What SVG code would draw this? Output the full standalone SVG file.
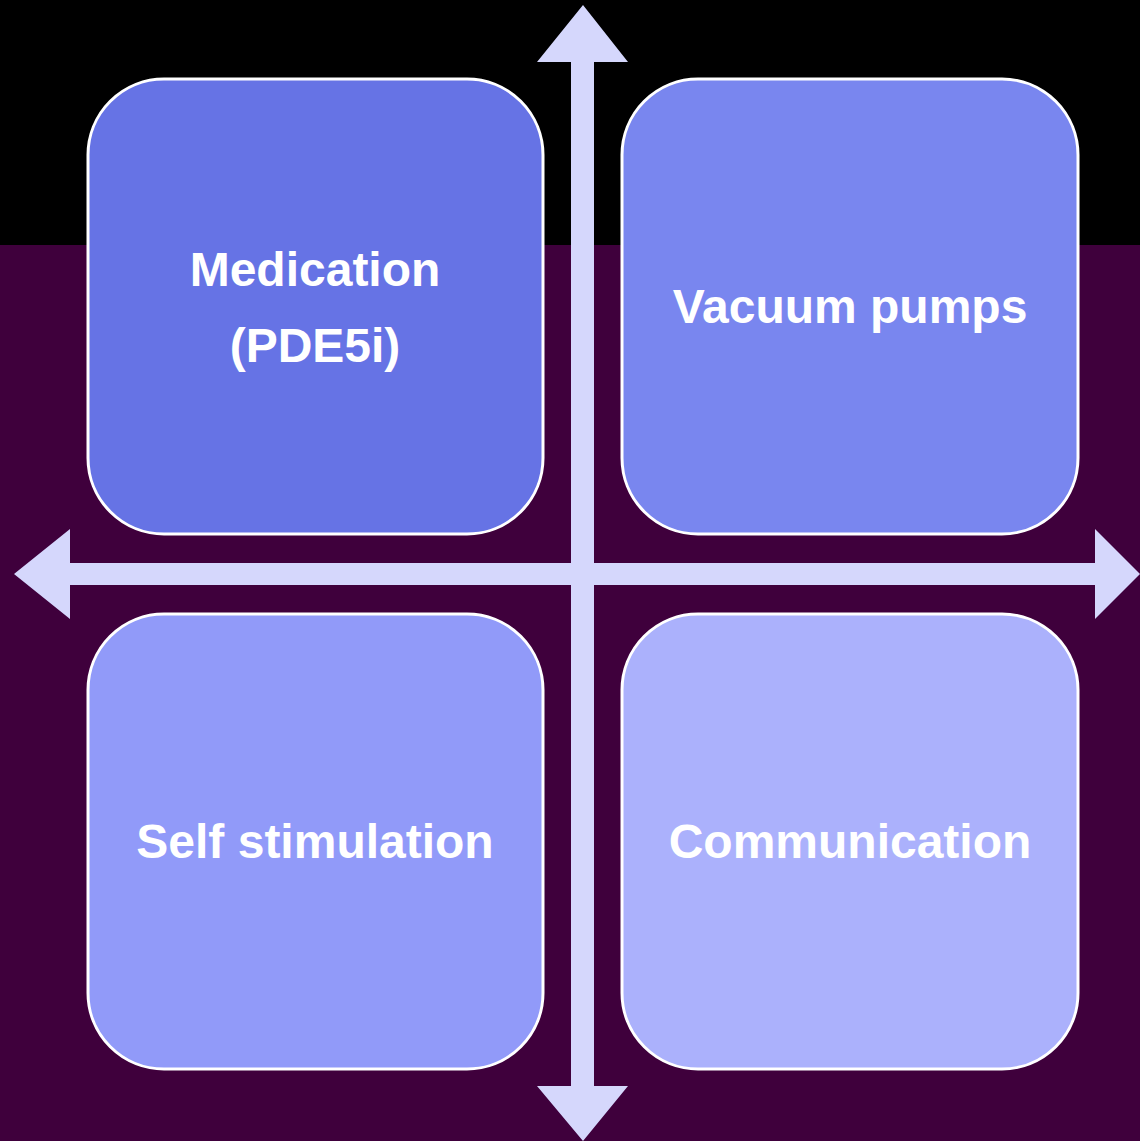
<svg xmlns="http://www.w3.org/2000/svg" width="1140" height="1141" viewBox="0 0 1140 1141">
<style>
.box{stroke:#ffffff;stroke-width:3}
.lbl{font-family:"Liberation Sans",Arial,sans-serif;font-weight:bold;font-size:48px;fill:#ffffff;text-anchor:middle}
.arr{fill:#D5D7FC}
</style>
<rect x="0" y="0" width="1140" height="245" fill="#000000"/>
<rect x="0" y="245" width="1140" height="896" fill="#3F003C"/>
<g id="node-medication">
<rect class="box" x="88" y="79" width="455" height="455" rx="76" fill="#6673E5"/>
<text class="lbl" x="315" y="286">Medication</text>
<text class="lbl" x="315" y="362">(PDE5i)</text>
</g>
<g id="node-vacuum">
<rect class="box" x="622" y="79" width="456" height="455" rx="76" fill="#7986EF"/>
<text class="lbl" x="850" y="323">Vacuum pumps</text>
</g>
<g id="node-self">
<rect class="box" x="88" y="614" width="455" height="455" rx="76" fill="#919AF9"/>
<text class="lbl" x="315" y="858">Self stimulation</text>
</g>
<g id="node-communication">
<rect class="box" x="622" y="614" width="456" height="455" rx="76" fill="#ABB1FC"/>
<text class="lbl" x="850" y="858">Communication</text>
</g>
<g id="connectors">
<polygon class="arr" points="583,5 628,62 594,62 594,1086 628,1086 583,1141 537,1086 571,1086 571,62 537,62"/>
<polygon class="arr" points="14,574 70,529 70,563 1095,563 1095,529 1140,574 1095,619 1095,585 70,585 70,619"/>
</g>
</svg>
